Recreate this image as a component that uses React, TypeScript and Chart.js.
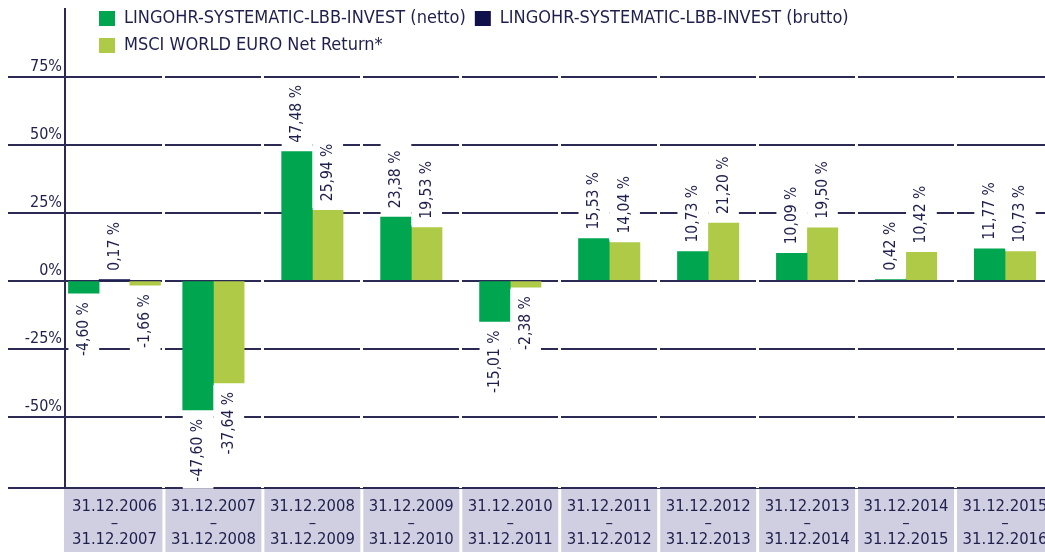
import React, { useEffect, useRef } from 'react';
import { Chart, registerables } from 'chart.js';

Chart.register(...registerables);

const periodStarts = ['31.12.2006', '31.12.2007', '31.12.2008', '31.12.2009', '31.12.2010', '31.12.2011', '31.12.2012', '31.12.2013', '31.12.2014', '31.12.2015'];
const periodEnds = ['31.12.2007', '31.12.2008', '31.12.2009', '31.12.2010', '31.12.2011', '31.12.2012', '31.12.2013', '31.12.2014', '31.12.2015', '31.12.2016'];
const nettoValues = [-4.6, -47.6, 47.48, 23.38, -15.01, 15.53, 10.73, 10.09, 0.42, 11.77];
const bruttoValues = [0.17, null, null, null, null, null, null, null, null, null];
const msciValues = [-1.66, -37.64, 25.94, 19.53, -2.38, 14.04, 21.2, 19.5, 10.42, 10.73];
const seriesNames = [
  'LINGOHR-SYSTEMATIC-LBB-INVEST (netto)',
  'LINGOHR-SYSTEMATIC-LBB-INVEST (brutto)',
  'MSCI WORLD EURO Net Return*',
];
const yTickValues = [-50, -25, 0, 25, 50, 75];
const yAxisMin = -76.3;
const yAxisMax = 100;

const FONT = "'DejaVu Sans Condensed', 'Liberation Sans Narrow', 'Liberation Sans', sans-serif";
const GREEN = '#00A54F';
const NAVY_BAR = '#10104A';
const LIME = '#AECA46';
const TEXT = '#1F1F4D';
const LINE = '#2A2A55';
const CELL = '#CFCFE1';

const fmt = (v: number) => v.toFixed(2).replace('.', ',') + ' %';

const legendPlacement = {
  id: 'legendPlacement',
  beforeLayout(chart: any) {
    const lg = chart.legend;
    if (lg && !lg.__patched) {
      const orig = lg.fit;
      lg.fit = function (...args: any[]) {
        orig.apply(this, args);
        this.height = 0;
      };
      lg.__patched = true;
    }
  },
  afterLayout(chart: any) {
    const lg = chart.legend;
    if (!lg) return;
    lg.left = chart.chartArea.left + 25;
    lg.top = 0.5;
    lg.bottom = 90;
  },
};

const categoryCells = {
  id: 'categoryCells',
  beforeDraw(chart: any) {
    const xs = chart.scales.x;
    const ctx = chart.ctx;
    const area = chart.chartArea;
    const n = chart.data.labels.length;
    const half = (xs.getPixelForValue(1) - xs.getPixelForValue(0)) / 2;
    const top = area.bottom + 1;
    ctx.save();
    ctx.fillStyle = CELL;
    for (let i = 0; i < n; i++) {
      const c = xs.getPixelForValue(i);
      const l = i === 0 ? c - half - 1 : c - half + 1.5;
      const r = c + half - 1.5;
      ctx.fillRect(l, top, r - l, chart.height - top);
    }
    ctx.restore();
  },
};

const barValueLabels = {
  id: 'barValueLabels',
  afterDatasetsDraw(chart: any) {
    const ctx = chart.ctx;
    ctx.save();
    ctx.font = `15.5px ${FONT}`;
    chart.data.datasets.forEach((ds: any, di: number) => {
      const meta = chart.getDatasetMeta(di);
      meta.data.forEach((bar: any, j: number) => {
        const v = ds.data[j];
        if (v === null || v === undefined) return;
        const text = fmt(v);
        const tw = ctx.measureText(text).width;
        const gap = 9;
        const pad = 7;
        const x = bar.x;
        const w = bar.width;
        if (v >= 0) {
          const top = Math.min(bar.y, bar.base);
          ctx.fillStyle = '#ffffff';
          ctx.fillRect(x - w / 2, top - gap - tw - pad, w, tw + pad + gap - 2);
          ctx.save();
          ctx.translate(x, top - gap);
          ctx.rotate(-Math.PI / 2);
          ctx.textAlign = 'left';
          ctx.textBaseline = 'middle';
          ctx.fillStyle = TEXT;
          ctx.fillText(text, 0, 0);
          ctx.restore();
        } else {
          const bottom = Math.max(bar.y, bar.base);
          ctx.fillStyle = '#ffffff';
          ctx.fillRect(x - w / 2, bottom + 2, w, tw + pad + gap - 2);
          ctx.save();
          ctx.translate(x, bottom + gap);
          ctx.rotate(-Math.PI / 2);
          ctx.textAlign = 'right';
          ctx.textBaseline = 'middle';
          ctx.fillStyle = TEXT;
          ctx.fillText(text, 0, 0);
          ctx.restore();
        }
      });
    });
    ctx.restore();
  },
};

export default function App() {
  const ref = useRef<HTMLCanvasElement | null>(null);

  useEffect(() => {
    if (!ref.current) return;
    const labels = periodStarts.map((s, i) => [s, '–', periodEnds[i]]);
    const chart = new Chart(ref.current, {
      type: 'bar',
      data: {
        labels,
        datasets: [
          { label: seriesNames[0], data: nettoValues, backgroundColor: GREEN, borderWidth: 0 },
          { label: seriesNames[1], data: bruttoValues as any, backgroundColor: NAVY_BAR, borderWidth: 0 },
          { label: seriesNames[2], data: msciValues, backgroundColor: LIME, borderWidth: 0 },
        ],
      },
      options: {
        animation: false,
        responsive: false,
        maintainAspectRatio: false,
        datasets: { bar: { barThickness: 30.7, skipNull: true } } as any,
        layout: { padding: { top: 9, right: 0, bottom: 0, left: 0 } },
        plugins: {
          legend: {
            position: 'top',
            align: 'start',
            labels: {
              boxWidth: 16,
              boxHeight: 15,
              padding: 9,
              color: TEXT,
              font: { family: FONT, size: 18 },
            },
          },
          tooltip: { enabled: false },
        },
        scales: {
          y: {
            position: 'left',
            min: yAxisMin,
            max: yAxisMax,
            afterBuildTicks: (scale: any) => {
              scale.ticks = [yAxisMin, ...yTickValues].map((v) => ({ value: v }));
            },
            afterFit: (scale: any) => {
              scale.width = 65;
            },
            grid: {
              color: LINE,
              lineWidth: 2,
              drawTicks: true,
              tickLength: 57,
              tickColor: LINE,
              tickWidth: 2,
            },
            border: { display: true, color: LINE, width: 2 },
            ticks: {
              padding: -54,
              labelOffset: -10,
              color: TEXT,
              font: { family: FONT, size: 16 },
              callback: (v: any) => (yTickValues.includes(Number(v)) ? `${v}%` : ''),
            },
          },
          x: {
            offset: true,
            afterFit: (scale: any) => {
              scale.height = 64;
            },
            grid: {
              offset: true,
              drawTicks: false,
              lineWidth: 3,
              color: (c: any) => (c.index === 0 ? 'rgba(0,0,0,0)' : '#ffffff'),
            },
            border: { display: false },
            ticks: {
              padding: 10.5,
              autoSkip: false,
              maxRotation: 0,
              minRotation: 0,
              color: TEXT,
              font: { family: FONT, size: 16.5, lineHeight: '16.5px' } as any,
            },
          },
        },
      },
      plugins: [legendPlacement, categoryCells, barValueLabels],
    });
    return () => chart.destroy();
  }, []);

  return (
    <div style={{ position: 'absolute', left: 0, top: 0, width: 1045, height: 552, overflow: 'hidden', background: '#ffffff' }}>
      <canvas ref={ref} width={1058} height={552} style={{ display: 'block' }} />
    </div>
  );
}
